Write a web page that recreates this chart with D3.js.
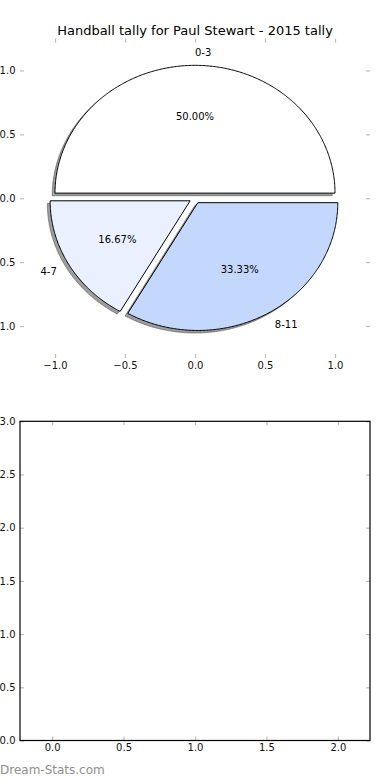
<!DOCTYPE html>
<html>
<head>
<meta charset="utf-8">
<script src="https://cdn.jsdelivr.net/npm/d3@7"></script>
<style>
  html, body { margin: 0; padding: 0; background: #fff; }
  svg { display: block; font-family: "DejaVu Sans", sans-serif; }
</style>
</head>
<body>
<div id="main"></div>
<script>
// slices of the pie
const categories = ['0-3', '4-7', '8-11'];
const tallies = [3, 1, 2];
const sliceColors = ['#ffffff', '#eaf0fe', '#c4d8fe'];

// tick values of both panels
const pieTicks = [-1.0, -0.5, 0.0, 0.5, 1.0];
const emptyXTicks = [0.0, 0.5, 1.0, 1.5, 2.0];
const emptyYTicks = [0.0, 0.5, 1.0, 1.5, 2.0, 2.5, 3.0];

const title = 'Handball tally for Paul Stewart - 2015 tally';

document.addEventListener('DOMContentLoaded', () => {
  const width = 390, height = 780;
  const left = 20, right = 370;
  const explode = 0.04, shadowOff = -0.02;

  const svg = d3.select('#main').append('svg')
    .attr('viewBox', [0, 0, width, height])
    .attr('width', width).attr('height', height);

  const fmt = d => d3.format('.1f')(d).replace('-', '\u2212');
  const tickGrey = '#bdbdbd';

  const styleAxis = g => {
    g.select('.domain').remove();
    g.selectAll('.tick line').attr('stroke', tickGrey).attr('stroke-width', 1.2);
    g.selectAll('.tick text').attr('fill', '#111')
      .attr('font-size', 10).attr('font-family', '"DejaVu Sans", sans-serif');
  };

  // ---- top panel: pie ----
  const px = d3.scaleLinear().domain([-1.25, 1.25]).range([left, right]);
  const py = d3.scaleLinear().domain([-1.25, 1.25]).range([358, 38.5]);

  svg.append('text')
    .attr('x', (left + right) / 2).attr('y', 35)
    .attr('text-anchor', 'middle').attr('font-size', 13).attr('fill', '#000')
    .text(title);

  const axes1 = [
    [d3.axisBottom(px).tickValues(pieTicks).tickFormat(fmt), `translate(0,${py.range()[0]})`],
    [d3.axisTop(px).tickValues(pieTicks).tickFormat(''), `translate(0,${py.range()[1]})`],
    [d3.axisLeft(py).tickValues(pieTicks).tickFormat(fmt), `translate(${left},0)`],
    [d3.axisRight(py).tickValues(pieTicks).tickFormat(''), `translate(${right},0)`]
  ];
  axes1.forEach(([ax, tr], i) => {
    svg.append('g').attr('transform', tr)
      .call(ax.tickSizeInner(-4).tickSizeOuter(0).tickPadding(i === 2 ? 4.5 : 3.5))
      .call(styleAxis);
  });

  const total = d3.sum(tallies);
  const pie = d3.pie().sort(null).value(d => d)(tallies);
  // matplotlib style: start at east, counter-clockwise
  const slices = pie.map((p, i) => {
    const t1 = p.startAngle, t2 = p.endAngle, mid = (t1 + t2) / 2;
    return {
      i, t1, t2, mid,
      cx: explode * Math.cos(mid), cy: explode * Math.sin(mid),
      pct: tallies[i] / total * 100
    };
  });

  const line = d3.line().x(d => px(d[0])).y(d => py(d[1]));
  const wedge = (s, ox, oy) => {
    const pts = [[s.cx + ox, s.cy + oy]];
    const n = Math.max(8, Math.ceil((s.t2 - s.t1) / 0.01));
    for (let k = 0; k <= n; ++k) {
      const t = s.t1 + (s.t2 - s.t1) * k / n;
      pts.push([s.cx + ox + Math.cos(t), s.cy + oy + Math.sin(t)]);
    }
    return line(pts) + 'Z';
  };

  svg.append('g').selectAll('path').data(slices).join('path')
    .attr('d', s => wedge(s, shadowOff, shadowOff))
    .attr('fill', '#4d4d4d').attr('fill-opacity', 0.55)
    .attr('stroke', '#4d4d4d').attr('stroke-opacity', 0.55);

  svg.append('g').selectAll('path').data(slices).join('path')
    .attr('d', s => wedge(s, 0, 0))
    .attr('fill', s => sliceColors[s.i])
    .attr('stroke', '#000').attr('stroke-width', 1)
    .attr('stroke-linejoin', 'miter');

  svg.append('g').selectAll('text').data(slices).join('text')
    .attr('x', s => px(s.cx + 1.1 * Math.cos(s.mid)))
    .attr('y', s => py(s.cy + 1.1 * Math.sin(s.mid)))
    .attr('dy', '0.35em').attr('font-size', 10)
    .attr('text-anchor', s => (s.cx + 1.1 * Math.cos(s.mid)) > 0 ? 'start' : 'end')
    .text(s => categories[s.i]);

  svg.append('g').selectAll('text').data(slices).join('text')
    .attr('x', s => px(s.cx + 0.6 * Math.cos(s.mid)))
    .attr('y', s => py(s.cy + 0.6 * Math.sin(s.mid)))
    .attr('dy', '0.35em').attr('font-size', 10).attr('text-anchor', 'middle')
    .text(s => s.pct.toFixed(2) + '%');

  // ---- bottom panel: empty axes ----
  const bx = d3.scaleLinear().domain([-0.225, 2.225]).range([left, right]);
  const by = d3.scaleLinear().domain([0, 3]).range([740.5, 421.3]);

  const axes2 = [
    [d3.axisBottom(bx).tickValues(emptyXTicks).tickFormat(fmt), `translate(0,${by.range()[0]})`],
    [d3.axisTop(bx).tickValues(emptyXTicks).tickFormat(''), `translate(0,${by.range()[1]})`],
    [d3.axisLeft(by).tickValues(emptyYTicks).tickFormat(fmt), `translate(${left},0)`],
    [d3.axisRight(by).tickValues(emptyYTicks).tickFormat(''), `translate(${right},0)`]
  ];
  axes2.forEach(([ax, tr], i) => {
    svg.append('g').attr('transform', tr)
      .call(ax.tickSizeInner(-4).tickSizeOuter(0).tickPadding(i === 2 ? 4.5 : 3.5))
      .call(styleAxis);
  });

  svg.append('rect')
    .attr('x', left).attr('y', by.range()[1])
    .attr('width', right - left).attr('height', by.range()[0] - by.range()[1])
    .attr('fill', 'none').attr('stroke', '#000').attr('stroke-width', 1.2);

  svg.append('text')
    .attr('x', 0).attr('y', 774).attr('font-size', 12).attr('fill', '#8f8f8f')
    .text('Dream-Stats.com');
});
</script>
</body>
</html>
